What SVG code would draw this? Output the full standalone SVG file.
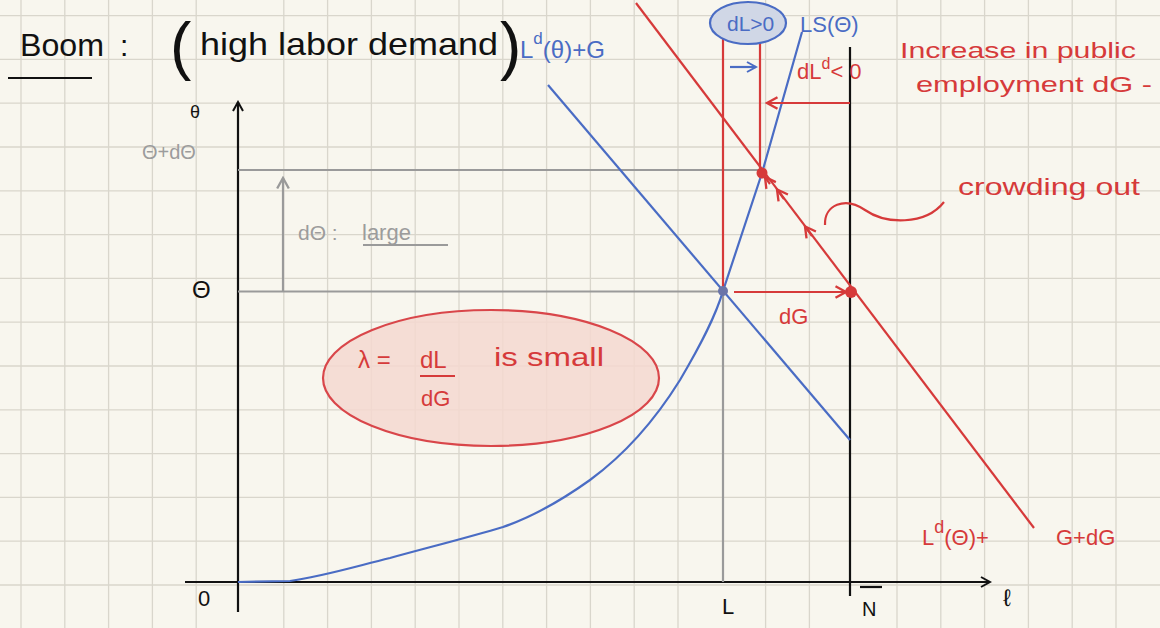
<svg xmlns="http://www.w3.org/2000/svg" width="1160" height="628" viewBox="0 0 1160 628">
<style>
.grid{stroke:#d9d6cc;stroke-width:1.3}
.hand{font-family:"Liberation Sans","DejaVu Sans",sans-serif}
.blk{fill:#111}
.red{fill:#d63a3a}
.blu{fill:#4a6cc4}
.gry{fill:#9c9c9c}
.ax{stroke:#111;stroke-width:2.2;fill:none}
.rl{stroke:#d63a3a;stroke-width:2.2;fill:none}
.bl{stroke:#4a6cc4;stroke-width:2.2;fill:none}
.gl{stroke:#9a9a9a;stroke-width:2.2;fill:none}
</style>
<defs>
<marker id="ahK" viewBox="0 0 12 12" refX="10" refY="6" markerWidth="12" markerHeight="12" markerUnits="userSpaceOnUse" orient="auto"><path d="M1,1 L10,6 L1,11" fill="none" stroke="#111" stroke-width="2"/></marker>
<marker id="ahG" viewBox="0 0 12 12" refX="10" refY="6" markerWidth="14" markerHeight="14" markerUnits="userSpaceOnUse" orient="auto"><path d="M1,1 L10,6 L1,11" fill="none" stroke="#9a9a9a" stroke-width="2"/></marker>
<marker id="ahR" viewBox="0 0 12 12" refX="10" refY="6" markerWidth="14" markerHeight="14" markerUnits="userSpaceOnUse" orient="auto"><path d="M1,1 L10,6 L1,11" fill="none" stroke="#d63a3a" stroke-width="2"/></marker>
<marker id="ahB" viewBox="0 0 12 12" refX="10" refY="6" markerWidth="12" markerHeight="12" markerUnits="userSpaceOnUse" orient="auto"><path d="M1,1 L10,6 L1,11" fill="none" stroke="#4a6cc4" stroke-width="2"/></marker>
</defs>
<rect width="1160" height="628" fill="#f8f6ee"/>
<g id="grid" class="grid">
<path d="M21,0V628 M64.8,0V628 M108.6,0V628 M152.4,0V628 M196.2,0V628 M283.8,0V628 M327.6,0V628 M371.4,0V628 M415.2,0V628 M459,0V628 M502.8,0V628 M546.6,0V628 M590.4,0V628 M634.2,0V628 M678,0V628 M765.6,0V628 M809.4,0V628 M897,0V628 M940.8,0V628 M984.6,0V628 M1028.4,0V628 M1072.2,0V628 M1116,0V628"/>
<path d="M0,15.6H1160 M0,59.4H1160 M0,103.2H1160 M0,147H1160 M0,190.8H1160 M0,234.6H1160 M0,278.4H1160 M0,322.2H1160 M0,366H1160 M0,409.8H1160 M0,453.6H1160 M0,497.4H1160 M0,541.2H1160 M0,585H1160"/>
</g>

<g id="title">
<text class="hand blk" x="20" y="56" font-size="32" textLength="84" lengthAdjust="spacingAndGlyphs">Boom</text>
<text class="hand blk" x="120" y="56" font-size="30">:</text>
<path d="M8,78 H92" class="ax" stroke-width="2"/>
<text class="hand blk" x="170" y="68" font-size="64" font-weight="300">(</text>
<text class="hand blk" x="200" y="55" font-size="32" textLength="298" lengthAdjust="spacingAndGlyphs">high labor demand</text>
<text class="hand blk" x="500" y="68" font-size="64" font-weight="300">)</text>
</g>

<g id="axes">
<path d="M238,612 V102" class="ax" marker-end="url(#ahK)"/>
<path d="M185,582 H990" class="ax" marker-end="url(#ahK)"/>
<text class="hand blk" x="190" y="118" font-size="18">θ</text>
<text class="hand blk" x="1003" y="606" font-size="24">ℓ</text>
<text class="hand blk" x="198" y="606" font-size="22">0</text>
<text class="hand blk" x="722" y="614" font-size="22">L</text>
<text class="hand blk" x="862" y="616" font-size="20">N</text>
<path d="M860,587 H882" class="ax" stroke-width="2"/>
</g>

<g id="connectors">
<path d="M238,170 H760" class="gl"/>
<path d="M238,291.5 H723" class="gl"/>
<path d="M723,291 V582" class="gl"/>
<path d="M283,292 V178" class="gl" marker-end="url(#ahG)"/>
<path d="M850,47 V596" class="ax"/>
<path d="M548,85 L850,440" class="bl"/>
<path d="M238,582 L290,581 C320,577 350,568 390,558 C430,547 470,537 503,527 C535,516 562,500 590,480 C620,458 652,425 680,380 C700,346 715,318 723,291 L762,173 L802,32" class="bl"/>
<path d="M636,3 L1034,528" class="rl"/>
<path d="M723,33 V291" class="rl"/>
<path d="M760,42 V173" class="rl"/>
<path d="M850,103 H767" class="rl" marker-end="url(#ahR)"/>
<path d="M730,67 H756" class="bl" marker-end="url(#ahB)"/>
<path d="M734,292 H846" class="rl" marker-end="url(#ahR)"/>
<path d="M812,236 L805,226.5" class="rl" marker-end="url(#ahR)"/>
<path d="M784,199 L777,189.5" class="rl" marker-end="url(#ahR)"/>
<path d="M770,184 L765,177" class="rl" marker-end="url(#ahR)"/>
<path d="M825,225 C824,205 845,196 865,210 C885,224 925,226 944,202" class="rl"/>
</g>

<g id="points">
<circle cx="723" cy="291" r="5" fill="#6a74a8"/>
<circle cx="762" cy="173" r="5.5" fill="#d63a3a"/>
<circle cx="851" cy="292" r="6" fill="#d63a3a"/>
</g>

<g id="ellipse-dL">
<ellipse cx="748" cy="23" rx="38" ry="21" fill="#d0d7e6" stroke="#4a6cc4" stroke-width="2.2"/>
<text class="hand blu" x="727" y="31" font-size="21">dL&gt;0</text>
</g>

<g id="labels-blue">
<text class="hand blu" x="520" y="58" font-size="24">L<tspan dy="-14" font-size="17">d</tspan><tspan dy="14">(θ)+G</tspan></text>
<text class="hand blu" x="800" y="32" font-size="22">LS(Θ)</text>
</g>

<g id="labels-red">
<text class="hand red" x="797" y="79" font-size="22">dL<tspan dy="-10" font-size="16">d</tspan><tspan dy="10">&lt; 0</tspan></text>
<text class="hand red" x="900" y="58" font-size="22" textLength="236" lengthAdjust="spacingAndGlyphs">Increase in public</text>
<text class="hand red" x="916" y="92" font-size="22" textLength="236" lengthAdjust="spacingAndGlyphs">employment dG -</text>
<text class="hand red" x="958" y="195" font-size="24" textLength="182" lengthAdjust="spacingAndGlyphs">crowding out</text>
<text class="hand red" x="779" y="324" font-size="22">dG</text>
<text class="hand red" x="922" y="545" font-size="22">L<tspan dy="-12" font-size="18">d</tspan><tspan dy="12">(Θ)+</tspan></text>
<text class="hand red" x="1056" y="545" font-size="22">G+dG</text>
</g>

<g id="labels-gray">
<text class="hand gry" x="142" y="159" font-size="20">Θ+dΘ</text>
<text class="hand blk" x="192" y="298" font-size="24">Θ</text>
<text class="hand gry" x="298" y="240" font-size="21">dΘ :</text>
<text class="hand gry" x="362" y="240" font-size="22">large</text>
<path d="M363,245 H448" class="gl" stroke-width="1.8"/>
</g>

<g id="ellipse-lambda">
<ellipse cx="491" cy="378" rx="168" ry="68" fill="#f4d8d0" fill-opacity="0.85" stroke="#d9464a" stroke-width="2.2"/>
<text class="hand red" x="358" y="368" font-size="24">λ =</text>
<text class="hand red" x="420" y="368" font-size="24">dL</text>
<path d="M420,376 H455" class="rl" stroke-width="1.6"/>
<text class="hand red" x="421" y="406" font-size="22">dG</text>
<text class="hand red" x="494" y="366" font-size="26" textLength="110" lengthAdjust="spacingAndGlyphs">is small</text>
</g>
</svg>
